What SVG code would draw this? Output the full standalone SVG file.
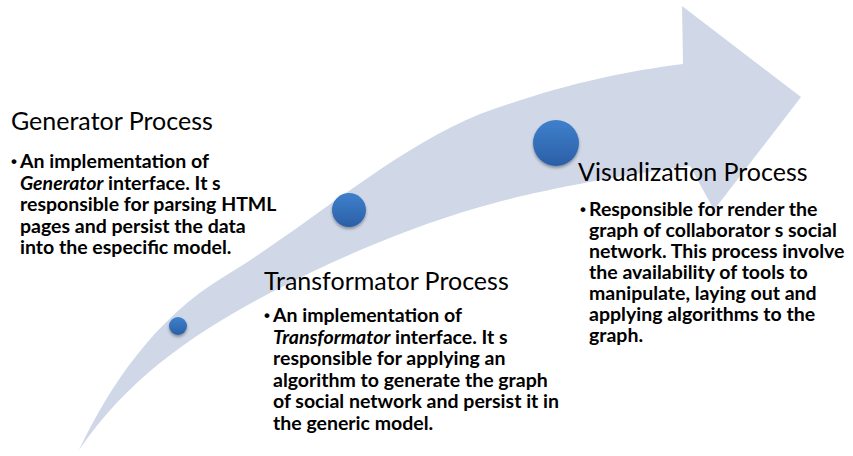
<svg xmlns="http://www.w3.org/2000/svg" width="853" height="456" viewBox="0 0 853 456">
<defs>
<style>
.title{font-family:Lato,"Open Sans","Liberation Sans",sans-serif;font-size:25px;fill:#000}
.body{font-family:Lato,"Open Sans","Liberation Sans",sans-serif;font-size:19.5px;font-weight:bold;fill:#000}
.it{font-style:italic}
.bul{font-family:"Liberation Sans",sans-serif;font-size:17px;font-weight:bold}
</style>
<linearGradient id="ball" x1="0" y1="0" x2="0" y2="1">
<stop offset="0" stop-color="#3F80CC"/>
<stop offset="1" stop-color="#2B5FA6"/>
</linearGradient>
<filter id="sh" x="-50%" y="-50%" width="200%" height="200%">
<feDropShadow dx="0" dy="2" stdDeviation="1.5" flood-color="#000" flood-opacity="0.35"/>
</filter>
</defs>
<rect width="853" height="456" fill="#fff"/>
<g id="arrow">
<path d="M79,450 C110,385 155,318 225,276 C305,228 395,148 480,114 C560,85 620,72 683,64 L682,6 L801,97 L714,210 L690,166 C600,178 520,195 480,207 C400,230 330,262 270,293 C200,330 130,375 79,450 Z" fill="#D0D8E8"/>
</g>
<g id="dot1"><circle cx="178" cy="326" r="9" fill="url(#ball)" filter="url(#sh)"/></g>
<g id="dot2"><circle cx="349" cy="210" r="17" fill="url(#ball)" filter="url(#sh)"/></g>
<g id="dot3"><circle cx="556" cy="143" r="23" fill="url(#ball)" filter="url(#sh)"/></g>
<g id="generator">
<text class="title" x="11" y="130">Generator Process</text>
<text class="body" y="168"><tspan class="bul" x="11" dy="-1">•</tspan><tspan x="20" dy="1">An implementation of</tspan></text>
<text class="body" x="20" y="189.5"><tspan class="it">Generator</tspan> interface. It s</text>
<text class="body" x="20" y="211">responsible for parsing HTML</text>
<text class="body" x="20" y="232.5">pages and persist the data</text>
<text class="body" x="20" y="254">into the especific model.</text>
</g>
<g id="transformator">
<text class="title" x="264" y="290">Transformator Process</text>
<text class="body" y="322"><tspan class="bul" x="264" dy="-1">•</tspan><tspan x="273" dy="1">An implementation of</tspan></text>
<text class="body" x="273" y="343.5"><tspan class="it">Transformator</tspan> interface. It s</text>
<text class="body" x="273" y="365">responsible for applying an</text>
<text class="body" x="273" y="386.5">algorithm to generate the graph</text>
<text class="body" x="273" y="408">of social network and persist it in</text>
<text class="body" x="273" y="429.5">the generic model.</text>
</g>
<g id="visualization">
<text class="title" x="578" y="181">Visualization Process</text>
<text class="body" y="216"><tspan class="bul" x="580" dy="-1">•</tspan><tspan x="589" dy="1">Responsible for render the</tspan></text>
<text class="body" x="589" y="237">graph of collaborator s social</text>
<text class="body" x="589" y="258">network. This process involve</text>
<text class="body" x="589" y="279">the availability of tools to</text>
<text class="body" x="589" y="300">manipulate, laying out and</text>
<text class="body" x="589" y="321">applying algorithms to the</text>
<text class="body" x="589" y="342">graph.</text>
</g>
</svg>
